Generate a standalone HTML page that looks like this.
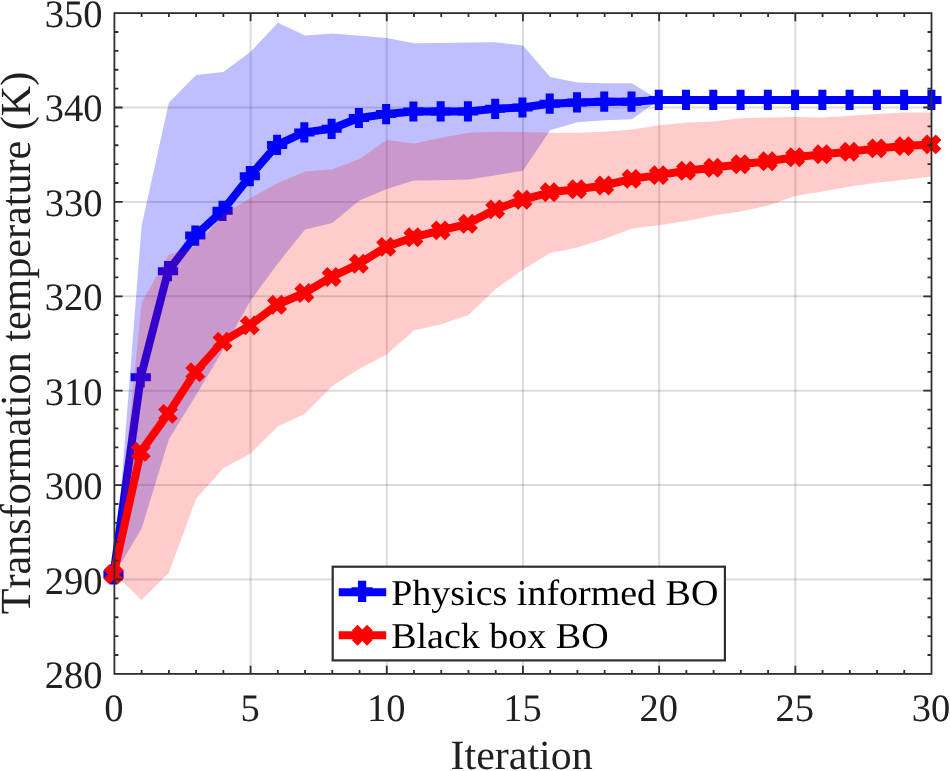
<!DOCTYPE html>
<html lang="en"><head><meta charset="utf-8"><title>Transformation temperature vs. iteration</title>
<style>html,body{margin:0;padding:0;background:#fff;}body{width:950px;height:771px;overflow:hidden;}svg{display:block;filter:blur(0.6px);}text{font-family:"Liberation Serif","Times New Roman",Times,serif;fill:#202020;font-kerning:none;text-rendering:geometricPrecision;}</style>
</head><body>
<svg width="950" height="771" viewBox="0 0 950 771">
<rect x="0" y="0" width="950" height="771" fill="#ffffff"/>
<g stroke="#262626" stroke-opacity="0.16" stroke-width="2" fill="none">
<line x1="250.58" y1="13.1" x2="250.58" y2="673.9"/>
<line x1="386.77" y1="13.1" x2="386.77" y2="673.9"/>
<line x1="522.95" y1="13.1" x2="522.95" y2="673.9"/>
<line x1="659.13" y1="13.1" x2="659.13" y2="673.9"/>
<line x1="795.32" y1="13.1" x2="795.32" y2="673.9"/>
<line x1="114.4" y1="579.5" x2="931.5" y2="579.5"/>
<line x1="114.4" y1="485.1" x2="931.5" y2="485.1"/>
<line x1="114.4" y1="390.7" x2="931.5" y2="390.7"/>
<line x1="114.4" y1="296.3" x2="931.5" y2="296.3"/>
<line x1="114.4" y1="201.9" x2="931.5" y2="201.9"/>
<line x1="114.4" y1="107.5" x2="931.5" y2="107.5"/>
</g>
<polygon points="114.4,574.2 141.64,225.5 168.87,102.4 196.11,75.1 223.35,72.1 250.58,51.8 277.82,22.8 305.06,35.4 332.29,33.6 359.53,35.7 386.77,37.9 414,43.2 441.24,43 468.48,42.5 495.71,42.2 522.95,45.5 550.19,77.1 577.42,82.4 604.66,83.2 631.9,83.2 659.13,99.9 686.37,99.9 713.61,99.9 740.84,99.9 768.08,99.9 795.32,99.9 822.55,99.9 849.79,99.9 877.03,99.9 904.26,99.9 931.5,99.9 931.5,99.9 904.26,99.9 877.03,99.9 849.79,99.9 822.55,99.9 795.32,99.9 768.08,99.9 740.84,99.9 713.61,99.9 686.37,99.9 659.13,99.9 631.9,119.2 604.66,120.2 577.42,122.3 550.19,130.3 522.95,170.7 495.71,175.2 468.48,179.6 441.24,180.2 414,180.6 386.77,189 359.53,200.6 332.29,223 305.06,229.6 277.82,263.5 250.58,300.5 223.35,349.4 196.11,395 168.87,439.2 141.64,528.5 114.4,574.2" fill="#0000ff" fill-opacity="0.25"/>
<polyline points="113.5,574.4 140.76,377.3 168.03,271.2 195.29,235.6 222.55,210.8 249.82,176.2 277.08,144.9 304.34,132.4 331.61,128.8 358.87,118 386.13,114.1 413.4,111.5 440.66,111.4 467.92,111.4 495.19,108.8 522.45,107.5 549.71,103.7 576.98,102.4 604.24,101.7 631.5,101.7 658.77,99.9 686.03,99.9 713.29,99.9 740.56,99.9 767.82,99.9 795.08,99.9 822.35,99.9 849.61,99.9 876.87,99.9 904.14,99.9 931.4,99.9" fill="none" stroke="#0000ff" stroke-width="8" stroke-linejoin="round"/>
<path d="M103.4 574.4h20.2M113.5 564.3v20.2M130.66 377.3h20.2M140.76 367.2v20.2M157.93 271.2h20.2M168.03 261.1v20.2M185.19 235.6h20.2M195.29 225.5v20.2M212.45 210.8h20.2M222.55 200.7v20.2M239.72 176.2h20.2M249.82 166.1v20.2M266.98 144.9h20.2M277.08 134.8v20.2M294.24 132.4h20.2M304.34 122.3v20.2M321.51 128.8h20.2M331.61 118.7v20.2M348.77 118h20.2M358.87 107.9v20.2M376.03 114.1h20.2M386.13 104v20.2M403.3 111.5h20.2M413.4 101.4v20.2M430.56 111.4h20.2M440.66 101.3v20.2M457.82 111.4h20.2M467.92 101.3v20.2M485.09 108.8h20.2M495.19 98.7v20.2M512.35 107.5h20.2M522.45 97.4v20.2M539.61 103.7h20.2M549.71 93.6v20.2M566.88 102.4h20.2M576.98 92.3v20.2M594.14 101.7h20.2M604.24 91.6v20.2M621.4 101.7h20.2M631.5 91.6v20.2M648.67 99.9h20.2M658.77 89.8v20.2M675.93 99.9h20.2M686.03 89.8v20.2M703.19 99.9h20.2M713.29 89.8v20.2M730.46 99.9h20.2M740.56 89.8v20.2M757.72 99.9h20.2M767.82 89.8v20.2M784.98 99.9h20.2M795.08 89.8v20.2M812.25 99.9h20.2M822.35 89.8v20.2M839.51 99.9h20.2M849.61 89.8v20.2M866.77 99.9h20.2M876.87 89.8v20.2M894.04 99.9h20.2M904.14 89.8v20.2M921.3 99.9h20.2M931.4 89.8v20.2" fill="none" stroke="#0000ff" stroke-width="8"/>
<polygon points="114.4,574.2 141.64,302.6 168.87,254.7 196.11,246 223.35,214 250.58,198 277.82,183 305.06,171.5 332.29,169.3 359.53,159 386.77,139.9 414,143.4 441.24,137.8 468.48,132.8 495.71,131.8 522.95,132 550.19,132.7 577.42,132.7 604.66,131.8 631.9,129.4 659.13,125.2 686.37,122.5 713.61,121.4 740.84,118.3 768.08,117.5 795.32,117 822.55,117.5 849.79,115.8 877.03,114 904.26,112.5 931.5,112.5 931.5,176.5 904.26,179.7 877.03,182.8 849.79,186.6 822.55,191.6 795.32,195.9 768.08,205.5 740.84,211.6 713.61,215.4 686.37,220.9 659.13,225.2 631.9,228.5 604.66,239.1 577.42,247.4 550.19,253 522.95,269.8 495.71,289.1 468.48,315 441.24,324.2 414,330.6 386.77,354.5 359.53,368.7 332.29,386 305.06,413.8 277.82,426.6 250.58,453.5 223.35,468.3 196.11,498.7 168.87,572.8 141.64,600.1 114.4,574.2" fill="#ff0000" fill-opacity="0.2"/>
<polyline points="113.5,574.4 140.76,451.9 168.03,413.9 195.29,372.2 222.55,341.8 249.82,325.4 277.08,304.7 304.34,293 331.61,277 358.87,263.8 386.13,246.9 413.4,237.3 440.66,230.4 467.92,223.8 495.19,209.4 522.45,199.8 549.71,192.3 576.98,189.3 604.24,185.5 631.5,178.9 658.77,175.1 686.03,170.8 713.29,167.7 740.56,164.3 767.82,161.3 795.08,157.2 822.35,154.2 849.61,151.7 876.87,148.4 904.14,146.1 931.4,144.4" fill="none" stroke="#ff0000" stroke-width="8" stroke-linejoin="round"/>
<path d="M106.36 567.26l14.28 14.28M106.36 581.54l14.28 -14.28M133.62 444.76l14.28 14.28M133.62 459.04l14.28 -14.28M160.88 406.76l14.28 14.28M160.88 421.04l14.28 -14.28M188.15 365.06l14.28 14.28M188.15 379.34l14.28 -14.28M215.41 334.66l14.28 14.28M215.41 348.94l14.28 -14.28M242.67 318.26l14.28 14.28M242.67 332.54l14.28 -14.28M269.94 297.56l14.28 14.28M269.94 311.84l14.28 -14.28M297.2 285.86l14.28 14.28M297.2 300.14l14.28 -14.28M324.46 269.86l14.28 14.28M324.46 284.14l14.28 -14.28M351.73 256.66l14.28 14.28M351.73 270.94l14.28 -14.28M378.99 239.76l14.28 14.28M378.99 254.04l14.28 -14.28M406.25 230.16l14.28 14.28M406.25 244.44l14.28 -14.28M433.52 223.26l14.28 14.28M433.52 237.54l14.28 -14.28M460.78 216.66l14.28 14.28M460.78 230.94l14.28 -14.28M488.04 202.26l14.28 14.28M488.04 216.54l14.28 -14.28M515.31 192.66l14.28 14.28M515.31 206.94l14.28 -14.28M542.57 185.16l14.28 14.28M542.57 199.44l14.28 -14.28M569.83 182.16l14.28 14.28M569.83 196.44l14.28 -14.28M597.1 178.36l14.28 14.28M597.1 192.64l14.28 -14.28M624.36 171.76l14.28 14.28M624.36 186.04l14.28 -14.28M651.62 167.96l14.28 14.28M651.62 182.24l14.28 -14.28M678.89 163.66l14.28 14.28M678.89 177.94l14.28 -14.28M706.15 160.56l14.28 14.28M706.15 174.84l14.28 -14.28M733.41 157.16l14.28 14.28M733.41 171.44l14.28 -14.28M760.68 154.16l14.28 14.28M760.68 168.44l14.28 -14.28M787.94 150.06l14.28 14.28M787.94 164.34l14.28 -14.28M815.2 147.06l14.28 14.28M815.2 161.34l14.28 -14.28M842.47 144.56l14.28 14.28M842.47 158.84l14.28 -14.28M869.73 141.26l14.28 14.28M869.73 155.54l14.28 -14.28M896.99 138.96l14.28 14.28M896.99 153.24l14.28 -14.28M924.26 137.26l14.28 14.28M924.26 151.54l14.28 -14.28" fill="none" stroke="#ff0000" stroke-width="8"/>
<g stroke="#2e2e2e" stroke-width="1.8" fill="none">
<rect x="114.4" y="13.1" width="817.1" height="660.8"/>
<path d="M141.64 673.9v-4 M141.64 13.1v4"/>
<path d="M168.87 673.9v-4 M168.87 13.1v4"/>
<path d="M196.11 673.9v-4 M196.11 13.1v4"/>
<path d="M223.35 673.9v-4 M223.35 13.1v4"/>
<path d="M250.58 673.9v-8.2 M250.58 13.1v8.2"/>
<path d="M277.82 673.9v-4 M277.82 13.1v4"/>
<path d="M305.06 673.9v-4 M305.06 13.1v4"/>
<path d="M332.29 673.9v-4 M332.29 13.1v4"/>
<path d="M359.53 673.9v-4 M359.53 13.1v4"/>
<path d="M386.77 673.9v-8.2 M386.77 13.1v8.2"/>
<path d="M414 673.9v-4 M414 13.1v4"/>
<path d="M441.24 673.9v-4 M441.24 13.1v4"/>
<path d="M468.48 673.9v-4 M468.48 13.1v4"/>
<path d="M495.71 673.9v-4 M495.71 13.1v4"/>
<path d="M522.95 673.9v-8.2 M522.95 13.1v8.2"/>
<path d="M550.19 673.9v-4 M550.19 13.1v4"/>
<path d="M577.42 673.9v-4 M577.42 13.1v4"/>
<path d="M604.66 673.9v-4 M604.66 13.1v4"/>
<path d="M631.9 673.9v-4 M631.9 13.1v4"/>
<path d="M659.13 673.9v-8.2 M659.13 13.1v8.2"/>
<path d="M686.37 673.9v-4 M686.37 13.1v4"/>
<path d="M713.61 673.9v-4 M713.61 13.1v4"/>
<path d="M740.84 673.9v-4 M740.84 13.1v4"/>
<path d="M768.08 673.9v-4 M768.08 13.1v4"/>
<path d="M795.32 673.9v-8.2 M795.32 13.1v8.2"/>
<path d="M822.55 673.9v-4 M822.55 13.1v4"/>
<path d="M849.79 673.9v-4 M849.79 13.1v4"/>
<path d="M877.03 673.9v-4 M877.03 13.1v4"/>
<path d="M904.26 673.9v-4 M904.26 13.1v4"/>
<path d="M114.4 655.02h4 M931.5 655.02h-4"/>
<path d="M114.4 636.14h4 M931.5 636.14h-4"/>
<path d="M114.4 617.26h4 M931.5 617.26h-4"/>
<path d="M114.4 598.38h4 M931.5 598.38h-4"/>
<path d="M114.4 579.5h8.2 M931.5 579.5h-8.2"/>
<path d="M114.4 560.62h4 M931.5 560.62h-4"/>
<path d="M114.4 541.74h4 M931.5 541.74h-4"/>
<path d="M114.4 522.86h4 M931.5 522.86h-4"/>
<path d="M114.4 503.98h4 M931.5 503.98h-4"/>
<path d="M114.4 485.1h8.2 M931.5 485.1h-8.2"/>
<path d="M114.4 466.22h4 M931.5 466.22h-4"/>
<path d="M114.4 447.34h4 M931.5 447.34h-4"/>
<path d="M114.4 428.46h4 M931.5 428.46h-4"/>
<path d="M114.4 409.58h4 M931.5 409.58h-4"/>
<path d="M114.4 390.7h8.2 M931.5 390.7h-8.2"/>
<path d="M114.4 371.82h4 M931.5 371.82h-4"/>
<path d="M114.4 352.94h4 M931.5 352.94h-4"/>
<path d="M114.4 334.06h4 M931.5 334.06h-4"/>
<path d="M114.4 315.18h4 M931.5 315.18h-4"/>
<path d="M114.4 296.3h8.2 M931.5 296.3h-8.2"/>
<path d="M114.4 277.42h4 M931.5 277.42h-4"/>
<path d="M114.4 258.54h4 M931.5 258.54h-4"/>
<path d="M114.4 239.66h4 M931.5 239.66h-4"/>
<path d="M114.4 220.78h4 M931.5 220.78h-4"/>
<path d="M114.4 201.9h8.2 M931.5 201.9h-8.2"/>
<path d="M114.4 183.02h4 M931.5 183.02h-4"/>
<path d="M114.4 164.14h4 M931.5 164.14h-4"/>
<path d="M114.4 145.26h4 M931.5 145.26h-4"/>
<path d="M114.4 126.38h4 M931.5 126.38h-4"/>
<path d="M114.4 107.5h8.2 M931.5 107.5h-8.2"/>
<path d="M114.4 88.62h4 M931.5 88.62h-4"/>
<path d="M114.4 69.74h4 M931.5 69.74h-4"/>
<path d="M114.4 50.86h4 M931.5 50.86h-4"/>
<path d="M114.4 31.98h4 M931.5 31.98h-4"/>
</g>
<text transform="translate(113.9 720.6) scale(1 1.01)" font-size="38.5" text-anchor="middle">0</text>
<text transform="translate(250.08 720.6) scale(1 1.01)" font-size="38.5" text-anchor="middle">5</text>
<text transform="translate(386.27 720.6) scale(1 1.01)" font-size="38.5" text-anchor="middle">10</text>
<text transform="translate(522.45 720.6) scale(1 1.01)" font-size="38.5" text-anchor="middle">15</text>
<text transform="translate(658.63 720.6) scale(1 1.01)" font-size="38.5" text-anchor="middle">20</text>
<text transform="translate(794.82 720.6) scale(1 1.01)" font-size="38.5" text-anchor="middle">25</text>
<text transform="translate(931 720.6) scale(1 1.01)" font-size="38.5" text-anchor="middle">30</text>
<text transform="translate(102.5 688.3) scale(1 1.01)" font-size="38.5" text-anchor="end">280</text>
<text transform="translate(102.5 593.8) scale(1 1.01)" font-size="38.5" text-anchor="end">290</text>
<text transform="translate(102.5 499.3) scale(1 1.01)" font-size="38.5" text-anchor="end">300</text>
<text transform="translate(102.5 404.8) scale(1 1.01)" font-size="38.5" text-anchor="end">310</text>
<text transform="translate(102.5 310.3) scale(1 1.01)" font-size="38.5" text-anchor="end">320</text>
<text transform="translate(102.5 215.8) scale(1 1.01)" font-size="38.5" text-anchor="end">330</text>
<text transform="translate(102.5 121.3) scale(1 1.01)" font-size="38.5" text-anchor="end">340</text>
<text transform="translate(102.5 26.8) scale(1 1.01)" font-size="38.5" text-anchor="end">350</text>
<text transform="translate(521.6 768.7) scale(1 0.99)" font-size="42" text-anchor="middle">Iteration</text>
<text transform="translate(30.3 343) rotate(-90) scale(1 1.02)" font-size="42.1" text-anchor="middle">Transformation temperature (K)</text>
<rect x="332.7" y="566.7" width="392.2" height="93.7" fill="#ffffff" stroke="#2e2e2e" stroke-width="2.2"/>
<path d="M338.7 592.2H386.2" stroke="#0000ff" stroke-width="8" fill="none"/>
<path d="M351.5 591.3H372.7 M362.1 580.7V601.9" fill="none" stroke="#0000ff" stroke-width="8.3"/>
<path d="M338.7 635.2H386.2" stroke="#ff0000" stroke-width="8" fill="none"/>
<path d="M354.7 627.7L369.9 642.9 M354.7 642.9L369.9 627.7" fill="none" stroke="#ff0000" stroke-width="8"/>
<text transform="translate(391.2 605.1) scale(1 0.96)" font-size="38" text-anchor="start" style="fill:#000">Physics informed BO</text>
<text transform="translate(391.2 647.7) scale(1 0.96)" font-size="38" text-anchor="start" style="fill:#000">Black box BO</text>
</svg>
</body></html>
